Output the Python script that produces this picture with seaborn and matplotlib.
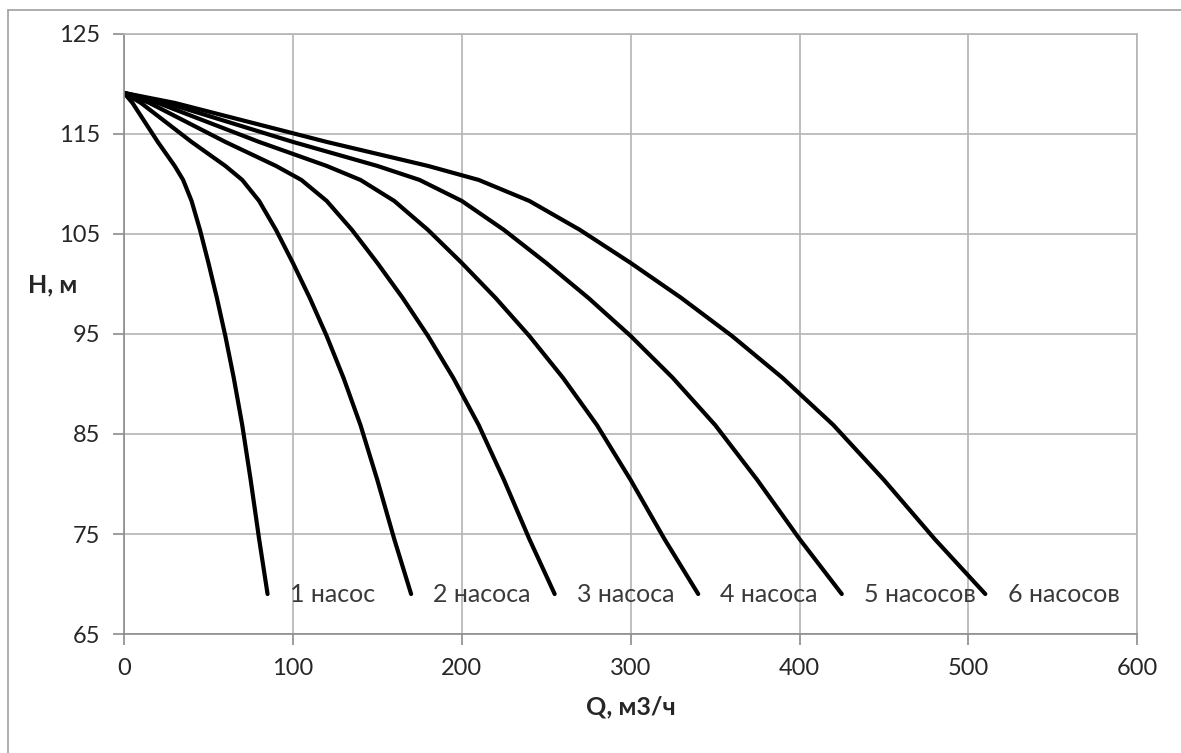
import pandas as pd
import matplotlib.pyplot as plt
import seaborn as sns
from matplotlib.lines import Line2D

# Head H, m (same for every pump combination)
head = [119.1, 118.1, 116.8, 115.5, 114.2, 113.0, 111.8, 110.4, 108.3,
        105.4, 102.1, 98.6, 94.8, 90.6, 85.9, 80.4, 74.5, 69.0]

# Flow Q, m3/h for 1..6 pumps in parallel
q_1 = [0, 5, 10, 15, 20, 25, 30, 35, 40, 45, 50, 55, 60, 65, 70, 75, 80, 85]
q_2 = [0, 10, 20, 30, 40, 50, 60, 70, 80, 90, 100, 110, 120, 130, 140, 150, 160, 170]
q_3 = [0, 15, 30, 45, 60, 75, 90, 105, 120, 135, 150, 165, 180, 195, 210, 225, 240, 255]
q_4 = [0, 20, 40, 60, 80, 100, 120, 140, 160, 180, 200, 220, 240, 260, 280, 300, 320, 340]
q_5 = [0, 25, 50, 75, 100, 125, 150, 175, 200, 225, 250, 275, 300, 325, 350, 375, 400, 425]
q_6 = [0, 30, 60, 90, 120, 150, 180, 210, 240, 270, 300, 330, 360, 390, 420, 450, 480, 510]

labels = ['1 насос', '2 насоса', '3 насоса', '4 насоса', '5 насосов', '6 насосов']
flows = [q_1, q_2, q_3, q_4, q_5, q_6]

rows = []
for lab, q in zip(labels, flows):
    for qi, hi in zip(q, head):
        rows.append({'curve': lab, 'Q': qi, 'H': hi})
df = pd.DataFrame(rows)

sns.set_style('white')
plt.rcParams['font.family'] = ['Lato', 'DejaVu Sans']

fig = plt.figure(figsize=(11.81, 7.53), dpi=100)
ax = fig.add_axes([0.105, 0.158, 0.858, 0.797])

sns.lineplot(data=df, x='Q', y='H', hue='curve', palette=['black'] * 6,
             linewidth=3.0, legend=False, sort=False, ax=ax)

# curve labels at the end of each line
for lab, q in zip(labels, flows):
    ax.annotate(lab, xy=(q[-1], head[-1]), xytext=(16, 0), textcoords='offset points',
                ha='left', va='center', fontsize=18, color='#3a3a3a')

ax.set_xlim(0, 600)
ax.set_ylim(65, 125)
ax.set_xticks(range(0, 601, 100))
ax.set_yticks(range(65, 126, 10))
ax.grid(True, color='#b4b4b4', linewidth=1.2)
for s in ax.spines.values():
    s.set_color('#b4b4b4')
    s.set_linewidth(1.2)
ax.spines['left'].set_color('#8c8c8c')
ax.spines['bottom'].set_color('#8c8c8c')
ax.tick_params(axis='both', which='major', labelsize=17, colors='#8c8c8c',
               labelcolor='#262626', length=8, width=1.2, direction='out',
               left=True, bottom=True, pad=9)

ax.set_xlabel('Q, м3/ч', fontsize=18, fontweight='bold', color='#262626', labelpad=12)
ax.set_ylabel('')
fig.text(0.024, 0.622, 'H, м', fontsize=18, fontweight='bold', color='#262626',
         ha='left', va='center')

# outer chart frame
fig.add_artist(Line2D([8 / 1181, 8 / 1181], [0, 1 - 10 / 753], color='#a0a0a0', lw=1.2))
fig.add_artist(Line2D([8 / 1181, 1], [1 - 10 / 753, 1 - 10 / 753], color='#a0a0a0', lw=1.2))

plt.savefig('out.png', dpi=100)
